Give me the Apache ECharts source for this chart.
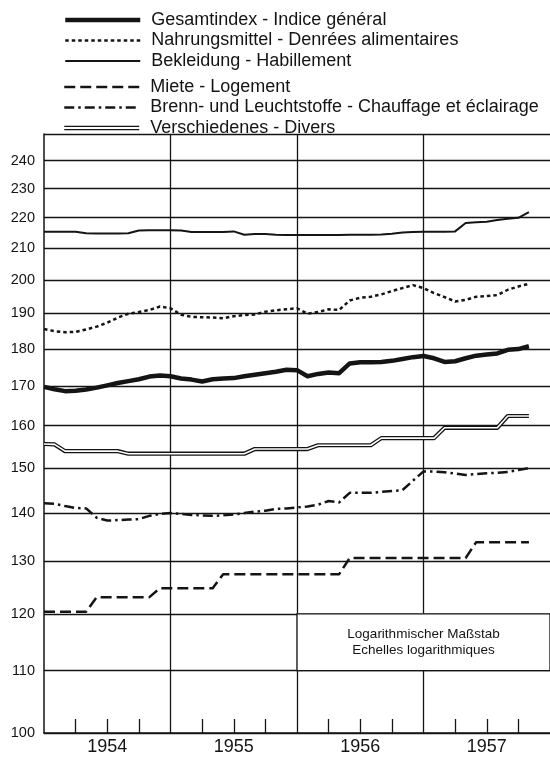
<!DOCTYPE html>
<html>
<head>
<meta charset="utf-8">
<script src="https://cdn.jsdelivr.net/npm/echarts@6/dist/echarts.min.js"></script>
<style>
  html, body { margin: 0; padding: 0; background: #fff; }
  #chart { width: 550px; height: 760px; }
</style>
</head>
<body>
<div id="chart"></div>
<script>
// months Jan 1954 .. Jan 1958
var months = [];
[1954, 1955, 1956, 1957].forEach(function (y) {
  for (var m = 1; m <= 12; m++) months.push(y + '-' + (m < 10 ? '0' + m : m));
});
months.push('1958-01');

var yTicks = [100, 110, 120, 130, 140, 150, 160, 170, 180, 190, 200, 210, 220, 230, 240, 250];
var yLabels = [100, 110, 120, 130, 140, 150, 160, 170, 180, 190, 200, 210, 220, 230, 240];

var names = [
  'Gesamtindex - Indice général',
  'Nahrungsmittel - Denrées alimentaires',
  'Bekleidung - Habillement',
  'Miete - Logement',
  'Brenn- und Leuchtstoffe - Chauffage et éclairage',
  'Verschiedenes - Divers'
];

var gesamt = [169.8, 169.2, 168.7, 168.8, 169.1, 169.6, 170.2, 170.8, 171.3, 171.8, 172.5, 172.8,
  172.6, 172.0, 171.7, 171.2, 171.8, 172.0, 172.1, 172.6, 173.0, 173.4, 173.8, 174.3,
  174.2, 172.6, 173.2, 173.6, 173.4, 176.0, 176.3, 176.3, 176.4, 176.7, 177.2, 177.7,
  178.0, 177.4, 176.4, 176.6, 177.4, 178.1, 178.4, 178.7, 179.7, 179.9, 180.7];

var nahrung = [185.5, 184.9, 184.6, 184.7, 185.4, 186.2, 187.3, 188.8, 189.9, 190.4, 191.0, 192.0,
  191.5, 189.6, 189.0, 188.9, 188.8, 188.6, 189.2, 189.5, 189.7, 190.5, 190.9, 191.2,
  191.5, 189.9, 190.4, 191.2, 191.0, 193.8, 194.6, 194.9, 195.6, 196.6, 197.5, 198.4,
  197.5, 196.0, 194.8, 193.5, 194.0, 194.9, 195.1, 195.4, 197.0, 198.0, 198.8];

var bekleidung = [215.3, 215.3, 215.3, 215.3, 214.8, 214.7, 214.7, 214.7, 214.8, 215.7, 215.8, 215.8,
  215.8, 215.7, 215.2, 215.2, 215.2, 215.2, 215.4, 214.3, 214.5, 214.5, 214.3, 214.2,
  214.2, 214.2, 214.2, 214.2, 214.2, 214.3, 214.3, 214.3, 214.4, 214.6, 215.0, 215.2,
  215.3, 215.3, 215.3, 215.4, 218.2, 218.4, 218.6, 219.2, 219.6, 219.9, 221.8];

var miete = [120.4, 120.4, 120.4, 120.4, 120.4, 123.1, 123.1, 123.1, 123.1, 123.1, 123.1, 124.8,
  124.8, 124.8, 124.8, 124.8, 124.8, 127.5, 127.5, 127.5, 127.5, 127.5, 127.5, 127.5,
  127.5, 127.5, 127.5, 127.5, 127.5, 130.7, 130.7, 130.7, 130.7, 130.7, 130.7, 130.7,
  130.7, 130.7, 130.7, 130.7, 130.7, 133.9, 133.9, 133.9, 133.9, 133.9, 133.9];

var brenn = [142.1, 142.0, 141.5, 141.1, 141.0, 139.0, 138.4, 138.5, 138.6, 138.7, 139.4, 139.8,
  140.0, 139.8, 139.6, 139.5, 139.4, 139.5, 139.7, 140.0, 140.3, 140.5, 140.9, 141.0,
  141.2, 141.4, 141.8, 142.6, 142.3, 144.4, 144.4, 144.4, 144.6, 144.8, 145.0, 147.1,
  149.2, 149.2, 149.0, 148.7, 148.4, 148.6, 148.8, 148.9, 149.1, 149.5, 150.0];

var verschiedenes = [155.6, 155.5, 153.9, 153.9, 153.9, 153.9, 153.9, 153.9, 153.3, 153.3, 153.3, 153.3,
  153.3, 153.3, 153.3, 153.3, 153.3, 153.3, 153.3, 153.3, 154.4, 154.4, 154.4, 154.4,
  154.4, 154.4, 155.3, 155.3, 155.3, 155.3, 155.3, 155.3, 157.0, 157.0, 157.0, 157.0,
  157.0, 157.0, 159.5, 159.5, 159.5, 159.5, 159.5, 159.5, 162.4, 162.4, 162.4];

var ink = '#141414';
var font = '"Liberation Sans", Arial, sans-serif';

var chart = echarts.init(document.getElementById('chart'));

var legendBase = {
  orient: 'vertical',
  left: 58,
  itemWidth: 75,
  itemHeight: 14,
  itemGap: 2.5,
  selectedMode: false,
  symbolKeepAspect: true,
  itemStyle: { opacity: 0 },
  lineStyle: { width: 'inherit' },
  textStyle: { color: ink, fontSize: 18, fontFamily: font, lineHeight: 16, padding: [0, 0, 0, 6] }
};

function line(name, data, width, type, extra) {
  var s = {
    name: name,
    type: 'line',
    data: data,
    symbol: 'none',
    smooth: false,
    color: ink,
    lineStyle: { color: ink, width: width, type: type, join: 'round' },
    z: 3
  };
  for (var k in extra) s[k] = extra[k];
  return s;
}

var option = {
  animation: false,
  backgroundColor: '#fff',
  legend: [
    Object.assign({}, legendBase, { top: 6, data: names.slice(0, 3) }),
    Object.assign({}, legendBase, {
      top: 73,
      data: [names[3], names[4], {
        name: names[5],
        icon: 'path://M0,0h75v1.3h-75z M0,3.2h75v1.3h-75z',
        itemStyle: { color: ink, borderWidth: 0, opacity: 1 }
      }]
    })
  ],
  grid: { left: 44, right: -2, top: 134, bottom: 27 },
  xAxis: {
    type: 'category',
    data: months,
    boundaryGap: false,
    axisLine: { lineStyle: { color: ink, width: 1.5 } },
    axisTick: {
      show: true,
      inside: true,
      length: 14,
      interval: function (i) { return i % 3 === 0 && i % 12 !== 0; },
      lineStyle: { color: ink, width: 1.3 }
    },
    axisLabel: {
      interval: function (i) { return i % 12 === 6; },
      formatter: function (v) { return v.slice(0, 4); },
      margin: 5,
      color: ink,
      fontSize: 18,
      fontFamily: font
    },
    splitLine: {
      show: true,
      interval: function (i) { return i % 12 === 0 && i > 0 && i < 48; },
      lineStyle: { color: ink, width: 1.3 }
    }
  },
  yAxis: {
    type: 'log',
    logBase: 10,
    min: 100,
    max: 250,
    axisLine: { show: true, lineStyle: { color: ink, width: 1.5 } },
    axisTick: { show: false, customValues: yTicks },
    axisLabel: {
      customValues: yLabels,
      color: ink,
      fontSize: 14.5,
      fontFamily: font,
      margin: 9,
      padding: [0, 0, 7, 0]
    },
    splitLine: { show: true, lineStyle: { color: ink, width: 1.3 } }
  },
  series: [
    line(names[0], gesamt, 4.5, 'solid'),
    line(names[1], nahrung, 2.5, [3.5, 3]),
    line(names[2], bekleidung, 2, 'solid'),
    line(names[3], miete, 2.5, [11, 5]),
    line(names[4], brenn, 2.5, [10, 4, 2.5, 4]),
    line(names[5], verschiedenes, 4.2, 'solid', {
      markArea: {
        silent: true,
        itemStyle: { color: '#fff', borderColor: ink, borderWidth: 1.3 },
        label: {
          show: true,
          position: 'inside',
          color: ink,
          fontSize: 13.5,
          lineHeight: 16,
          fontFamily: font,
          formatter: 'Logarithmischer Maßstab\nEchelles logarithmiques'
        },
        data: [[{ xAxis: 24, yAxis: 120 }, { xAxis: 48, yAxis: 110 }]]
      }
    }),
    line('Verschiedenes-innen', verschiedenes, 1.6, 'solid', {
      color: '#fff',
      lineStyle: { color: '#fff', width: 1.6 },
      z: 4
    })
  ]
};

chart.setOption(option);
</script>
</body>
</html>
